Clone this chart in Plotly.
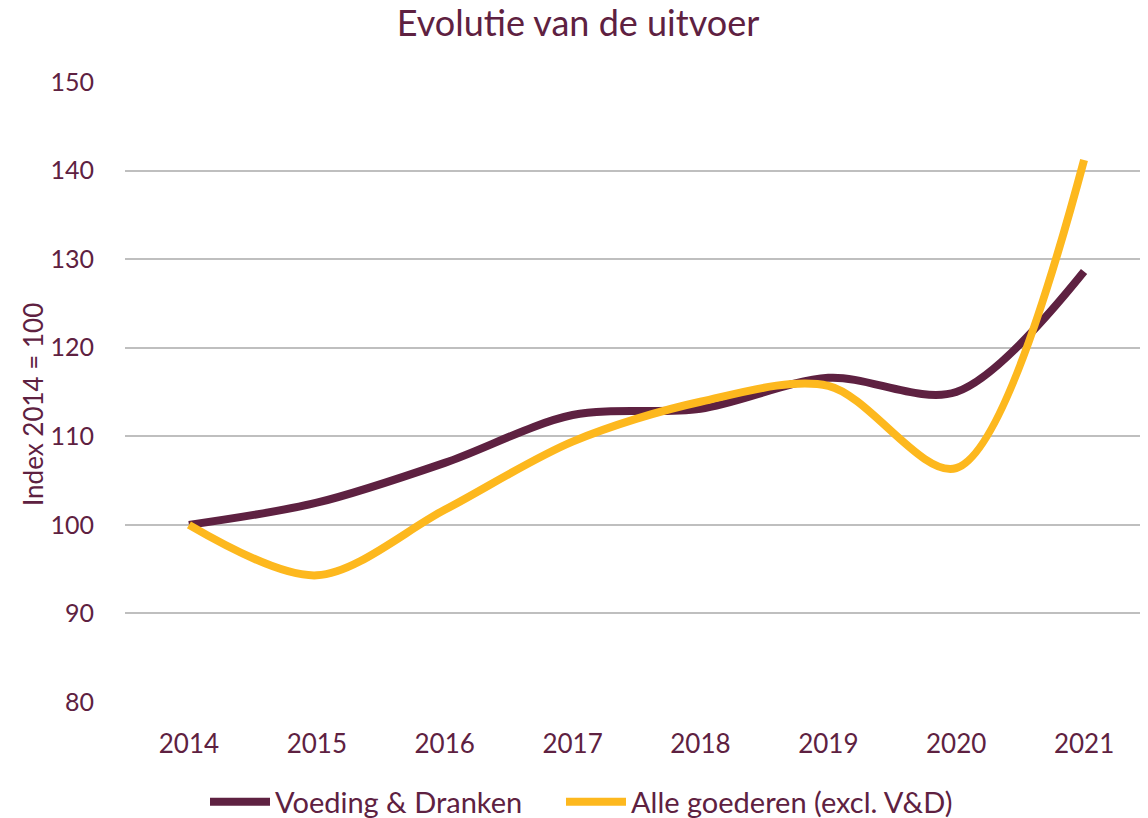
import plotly.graph_objects as go

years = [2014, 2015, 2016, 2017, 2018, 2019, 2020, 2021]
voeding = [100, 102.5, 107.0, 112.4, 113.1, 116.6, 115.0, 128.6]
alle = [100, 94.3, 101.7, 109.4, 113.9, 115.7, 106.4, 141.2]
y_ticks = [80, 90, 100, 110, 120, 130, 140, 150]

MAROON = "#5E2141"
YELLOW = "#FDB81E"
FONT = "Lato"

# The page body has an 8px margin; the figure is sized so that it fills the window.
W, H = 1140, 810
L, T, B = 117, 74, 116
plot_h = H - T - B
plot_w = W - L

fig = go.Figure()
fig.add_trace(go.Scatter(x=years, y=voeding, mode="lines", name="Voeding & Dranken",
                         line=dict(color=MAROON, width=8, shape="spline", smoothing=0.9)))
fig.add_trace(go.Scatter(x=years, y=alle, mode="lines", name="Alle goederen (excl. V&D)",
                         legend="legend2",
                         line=dict(color=YELLOW, width=8, shape="spline", smoothing=0.9)))

legend_y = -(794 - (H - B)) / plot_h
fig.update_layout(
    width=W, height=H,
    margin=dict(l=L, r=0, t=T, b=B, autoexpand=False),
    paper_bgcolor="white", plot_bgcolor="white",
    font=dict(family=FONT, color=MAROON, size=26),
    title=dict(text="Evolutie van de uitvoer", x=(578 - 8) / W, xanchor="center",
               y=1 - 15 / H, yanchor="middle",
               font=dict(size=36, color=MAROON, family=FONT)),
    xaxis=dict(range=[2013.5, 2021.5], tickvals=years, ticktext=[str(y) for y in years],
               showgrid=False, zeroline=False, showline=False, ticks="", ticklabelstandoff=24,
               automargin=False, tickfont=dict(size=26)),
    yaxis=dict(range=[80, 150], tickvals=y_ticks, showgrid=True, gridcolor="#BFBFBF", gridwidth=1.5,
               zeroline=False, showline=False, ticks="", ticklabelstandoff=30, automargin=False,
               tickfont=dict(size=25)),
    legend=dict(orientation="h", x=(205 - 8 - L) / plot_w, xanchor="left", xref="paper",
                y=legend_y, yanchor="middle", font=dict(size=29), itemwidth=60),
    legend2=dict(orientation="h", x=(561 - 8 - L) / plot_w, xanchor="left", xref="paper",
                 y=legend_y, yanchor="middle", font=dict(size=29), itemwidth=60),
    showlegend=True,
    annotations=[dict(text="Index 2014 = 100", xref="paper", yref="paper",
                      x=-(L - (33 - 8)) / plot_w, y=1 - (405 - 8 - T) / plot_h,
                      xanchor="center", yanchor="middle", textangle=-90, showarrow=False,
                      font=dict(size=26, color=MAROON, family=FONT))],
)
fig.write_html("out.html")
